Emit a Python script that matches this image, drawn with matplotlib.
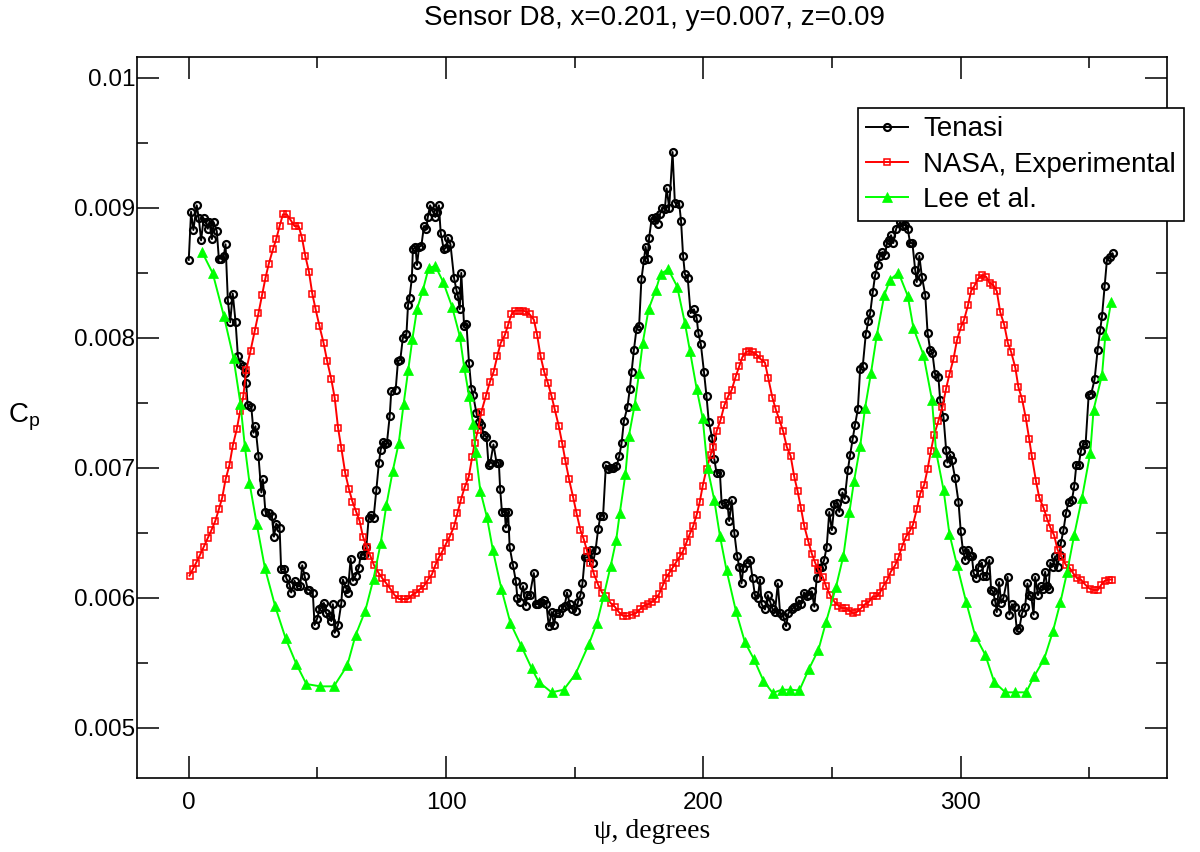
import numpy as np
import matplotlib
matplotlib.use("Agg")
import matplotlib.pyplot as plt
from matplotlib.ticker import MultipleLocator, FormatStrFormatter

# values, Cp in units of 1e-4
tenasi = [
    (0.0, 86.0), (0.9, 89.7), (1.8, 88.3), (3.1, 90.2), (3.9, 89.2), (4.8, 87.5), (5.8, 89.2), (6.8, 88.9),
    (7.4, 88.4), (8.0, 88.9), (9.0, 87.6), (9.7, 88.9), (10.9, 88.2), (11.7, 86.1), (12.6, 86.1), (13.6, 86.3),
    (14.3, 87.2), (15.2, 82.9), (16.1, 81.2), (17.1, 83.4), (18.2, 81.2), (19.1, 78.6), (20.0, 78.0), (21.0, 77.8),
    (21.7, 77.3), (22.3, 76.5), (22.9, 74.8), (24.3, 74.7), (25.2, 72.7), (25.9, 73.2), (27.1, 70.9), (28.2, 68.1),
    (28.8, 69.1), (29.8, 66.6), (31.1, 66.5), (32.3, 66.3), (33.1, 64.7), (34.0, 65.7), (35.3, 65.4), (35.9, 62.2),
    (37.2, 62.2), (37.9, 61.5), (39.2, 61.0), (39.8, 60.4), (41.1, 61.3), (42.0, 60.9), (43.3, 60.9), (44.1, 62.5),
    (45.0, 61.7), (46.3, 60.6), (46.9, 60.6), (48.2, 60.4), (48.9, 57.9), (49.9, 58.4), (50.8, 59.1), (51.9, 59.3),
    (52.5, 59.6), (53.4, 58.8), (54.7, 58.6), (55.4, 58.2), (56.0, 59.5), (56.7, 57.3), (58.0, 57.9), (59.3, 59.6),
    (59.9, 61.4), (61.2, 60.7), (61.8, 60.4), (62.9, 63.0), (63.8, 61.3), (64.8, 61.7), (66.1, 62.3), (66.8, 63.3),
    (68.1, 63.3), (69.0, 63.9), (69.9, 66.1), (70.9, 66.4), (71.8, 66.1), (72.9, 68.3), (73.9, 70.4), (74.6, 71.4),
    (75.5, 72.0), (76.1, 71.8), (77.0, 71.9), (78.1, 74.0), (78.7, 75.9), (80.4, 76.0), (81.3, 78.2), (82.2, 78.3),
    (83.2, 80.0), (84.6, 80.3), (85.2, 82.5), (85.8, 83.1), (86.7, 84.6), (87.1, 86.8), (88.1, 87.0), (88.7, 85.6),
    (89.5, 87.0), (90.4, 87.1), (91.4, 88.6), (92.3, 88.4), (92.9, 89.3), (93.8, 90.2), (94.9, 89.7), (95.8, 89.3),
    (96.5, 89.7), (97.2, 90.2), (97.9, 88.1), (99.1, 86.8), (99.8, 86.9), (100.7, 87.7), (101.7, 87.2), (103.1, 84.6),
    (104.0, 83.7), (104.6, 83.2), (105.3, 82.2), (105.9, 85.0), (107.0, 80.9), (107.9, 81.1), (108.9, 78.1),
    (109.8, 76.1), (110.5, 75.6), (111.8, 74.2), (112.8, 73.5), (113.7, 73.3), (114.7, 72.5), (115.7, 72.4),
    (116.5, 70.2), (117.2, 70.4), (118.4, 71.8), (119.6, 70.4), (120.5, 70.4), (121.0, 68.4), (121.7, 66.6),
    (122.8, 66.6), (123.2, 65.4), (124.1, 66.6), (124.7, 63.9), (126.0, 62.5), (127.1, 61.3), (127.7, 60.0),
    (128.6, 59.7), (129.9, 60.9), (131.0, 59.4), (131.5, 60.2), (132.5, 60.2), (134.1, 61.9), (134.9, 59.5),
    (135.9, 59.5), (136.8, 59.7), (138.0, 59.8), (139.0, 59.5), (139.9, 57.8), (141.0, 58.9), (142.0, 57.9),
    (142.6, 58.8), (143.9, 58.8), (145.2, 59.2), (146.1, 59.4), (147.0, 60.4), (148.1, 59.5), (149.1, 59.1),
    (150.4, 59.0), (151.3, 59.7), (152.2, 60.2), (153.0, 61.1), (153.9, 63.1), (154.8, 63.1), (156.2, 63.7),
    (157.1, 62.7), (158.1, 63.7), (159.1, 65.3), (160.0, 66.3), (161.0, 66.3), (162.1, 70.2), (163.0, 69.9),
    (164.0, 70.0), (164.9, 70.0), (166.2, 70.1), (167.3, 70.9), (168.2, 71.9), (169.1, 73.6), (170.5, 74.7),
    (171.4, 76.1), (172.1, 77.4), (173.0, 79.1), (174.0, 80.7), (175.0, 80.9), (175.9, 84.5), (176.9, 86.0),
    (177.5, 87.0), (178.3, 86.1), (178.9, 87.7), (179.9, 89.2), (180.7, 89.1), (181.5, 89.3), (182.2, 88.8),
    (183.1, 89.5), (184.0, 90.0), (185.0, 89.9), (185.7, 91.5), (186.7, 90.0), (188.0, 94.3), (188.9, 90.4),
    (190.6, 90.3), (191.3, 89.0), (192.1, 86.3), (192.8, 84.9), (193.9, 84.6), (195.0, 81.9), (196.3, 82.2),
    (197.4, 81.5), (198.0, 80.4), (199.0, 79.5), (200.2, 77.4), (201.2, 75.5), (202.1, 73.5), (203.4, 72.3),
    (204.2, 70.7), (205.1, 69.6), (206.4, 69.6), (207.1, 67.2), (208.4, 67.3), (209.4, 67.1), (210.0, 65.9),
    (211.0, 67.5), (212.0, 65.0), (213.1, 63.2), (213.9, 62.4), (214.8, 61.1), (215.5, 62.3), (216.8, 62.7),
    (218.1, 62.9), (219.1, 61.5), (220.0, 60.2), (221.1, 60.0), (222.0, 61.4), (222.6, 59.5), (223.9, 59.1),
    (225.0, 60.2), (225.9, 59.7), (226.9, 59.1), (227.8, 58.9), (228.9, 61.1), (229.8, 58.8), (231.0, 58.6),
    (232.1, 57.8), (233.0, 58.8), (234.3, 59.1), (235.3, 59.3), (236.3, 59.4), (237.1, 59.8), (237.9, 59.5),
    (239.1, 60.4), (240.1, 60.1), (241.0, 60.2), (242.1, 60.5), (243.1, 59.3), (244.0, 61.5), (245.0, 62.3),
    (246.0, 62.4), (246.9, 62.9), (247.9, 63.9), (248.9, 66.6), (249.9, 65.2), (250.9, 67.2), (251.8, 67.3),
    (252.8, 66.6), (254.0, 68.1), (254.9, 67.6), (256.1, 69.8), (257.0, 71.0), (258.0, 72.2), (258.9, 73.3),
    (260.0, 74.5), (260.9, 77.6), (261.9, 77.8), (263.1, 80.3), (264.1, 81.3), (264.8, 81.9), (265.8, 83.5),
    (266.7, 84.8), (267.7, 85.6), (268.6, 86.3), (269.5, 86.6), (270.6, 86.4), (271.3, 87.3), (272.3, 87.5),
    (272.9, 87.9), (273.8, 87.3), (274.9, 88.4), (276.4, 88.9), (277.5, 88.6), (278.4, 88.7), (279.4, 88.4),
    (280.3, 87.3), (281.2, 87.3), (282.3, 85.2), (282.9, 84.3), (283.9, 86.3), (284.9, 84.7), (286.2, 83.3),
    (287.1, 80.4), (288.1, 79.1), (289.0, 78.8), (290.0, 77.2), (291.3, 77.0), (292.0, 75.2), (293.3, 73.9),
    (294.3, 71.4), (294.8, 70.4), (295.9, 71.0), (296.5, 70.6), (297.8, 69.2), (299.1, 67.4), (300.0, 65.1),
    (300.8, 63.7), (301.7, 62.9), (303.0, 63.7), (303.7, 63.2), (304.3, 63.2), (305.0, 61.9), (306.0, 61.5),
    (306.9, 62.4), (308.2, 62.7), (308.8, 61.7), (309.9, 61.7), (311.1, 62.9), (311.8, 60.6), (312.5, 60.5),
    (313.4, 59.7), (314.0, 58.9), (314.9, 61.2), (315.7, 59.6), (316.6, 60.0), (318.2, 61.6), (318.9, 58.7),
    (319.9, 59.5), (320.9, 59.3), (321.8, 57.5), (322.8, 57.7), (323.8, 58.8), (325.0, 59.3), (325.9, 61.1),
    (326.7, 60.2), (327.4, 60.1), (328.3, 58.7), (328.9, 61.6), (330.0, 60.2), (331.2, 60.9), (331.9, 60.7),
    (332.8, 62.0), (333.5, 60.9), (334.1, 60.7), (334.8, 62.7), (335.7, 62.4), (336.7, 63.2), (337.6, 62.4),
    (338.4, 63.3), (338.9, 64.2), (339.9, 65.2), (340.9, 66.5), (341.9, 67.4), (343.2, 67.5), (344.1, 68.6),
    (344.9, 70.2), (345.8, 70.2), (346.7, 71.3), (347.5, 71.8), (348.5, 71.8), (349.7, 75.6), (350.7, 75.7),
    (352.0, 76.8), (353.2, 79.1), (354.2, 80.6), (354.9, 81.7), (355.9, 84.0), (356.8, 86.0), (357.8, 86.2),
    (359.0, 86.5),
]

nasa = [
    (0.3, 61.7), (1.6, 62.2), (2.9, 62.7), (4.4, 63.3), (5.8, 63.9), (7.4, 64.6), (8.8, 65.2), (10.3, 65.9),
    (11.7, 66.8), (13.0, 67.7), (14.3, 69.1), (15.8, 70.2), (17.1, 71.7), (18.7, 73.0), (20.0, 74.4), (21.2, 75.5),
    (22.3, 77.5), (24.0, 79.0), (25.6, 80.5), (27.1, 81.9), (28.5, 83.3), (29.8, 84.6), (31.1, 85.7), (32.7, 86.8),
    (34.0, 87.6), (35.3, 88.6), (36.6, 89.5), (38.1, 89.5), (39.8, 89.0), (41.1, 88.6), (42.7, 88.6), (44.0, 87.7),
    (45.3, 86.3), (46.7, 85.1), (48.0, 83.4), (49.3, 82.2), (50.8, 80.9), (52.4, 79.6), (53.8, 78.2), (55.4, 76.8),
    (56.7, 75.4), (58.0, 73.1), (59.3, 71.5), (60.8, 69.6), (62.2, 68.4), (63.6, 67.4), (65.1, 66.6), (66.4, 65.9),
    (67.7, 64.7), (69.2, 63.9), (70.6, 63.2), (72.0, 62.5), (73.8, 61.9), (75.2, 61.5), (76.8, 61.1), (78.3, 60.7),
    (80.0, 60.2), (81.7, 59.9), (83.5, 59.9), (85.2, 59.9), (86.7, 60.2), (88.4, 60.4), (90.0, 60.7), (91.4, 60.9),
    (93.0, 61.4), (94.5, 61.8), (95.8, 62.5), (97.2, 63.1), (98.6, 63.6), (100.1, 64.2), (101.4, 64.7),
    (103.1, 65.5), (104.4, 66.5), (105.7, 67.5), (107.2, 68.5), (108.8, 69.3), (110.1, 70.8), (111.1, 71.9),
    (112.4, 72.9), (113.7, 74.3), (115.4, 75.5), (117.0, 76.6), (118.5, 77.4), (119.9, 78.6), (121.2, 79.6),
    (122.8, 80.2), (124.1, 81.0), (125.4, 81.8), (126.7, 82.1), (128.2, 82.1), (129.9, 82.1), (131.2, 82.0),
    (132.5, 81.8), (134.1, 81.4), (135.4, 80.2), (136.7, 78.6), (138.1, 77.4), (139.6, 76.5), (141.0, 75.5),
    (142.2, 74.5), (143.8, 73.2), (145.2, 71.8), (146.4, 70.5), (147.8, 69.1), (149.4, 67.7), (150.7, 66.5),
    (152.2, 65.2), (153.5, 64.5), (154.8, 63.6), (156.1, 62.7), (157.5, 61.8), (159.1, 61.0), (160.6, 60.4),
    (162.3, 60.1), (163.9, 59.6), (165.6, 59.3), (167.1, 58.9), (168.8, 58.6), (170.4, 58.6), (172.1, 58.7),
    (173.7, 58.8), (175.3, 59.1), (177.0, 59.4), (178.5, 59.5), (180.1, 59.7), (181.4, 59.9), (182.8, 60.3),
    (184.1, 60.9), (185.4, 61.5), (186.7, 61.9), (188.0, 62.3), (189.3, 62.7), (190.9, 63.2), (192.1, 63.6),
    (193.5, 64.3), (194.7, 64.9), (196.0, 65.5), (197.4, 66.4), (198.6, 67.4), (199.7, 68.6), (201.2, 69.9),
    (202.8, 71.0), (203.8, 71.6), (205.1, 72.8), (206.7, 73.7), (208.1, 74.8), (209.6, 75.5), (211.0, 76.0),
    (212.5, 77.0), (213.9, 77.8), (215.1, 78.5), (216.5, 78.9), (217.8, 79.0), (219.1, 78.9), (220.7, 78.7),
    (222.0, 78.4), (223.9, 78.1), (225.2, 76.9), (226.8, 75.4), (228.1, 74.5), (229.5, 73.7), (231.0, 72.8),
    (232.4, 71.6), (233.9, 70.9), (235.3, 69.3), (236.6, 68.2), (237.9, 66.9), (239.2, 65.5), (240.8, 64.3),
    (242.1, 63.4), (243.4, 62.7), (244.7, 62.1), (246.4, 61.6), (247.6, 60.9), (249.2, 60.2), (250.9, 59.7),
    (252.4, 59.4), (254.0, 59.2), (255.3, 59.2), (256.7, 59.0), (258.3, 58.8), (259.6, 58.9), (261.3, 59.2),
    (262.8, 59.5), (264.4, 59.7), (265.8, 60.1), (267.4, 60.1), (268.6, 60.4), (269.9, 60.9), (271.5, 61.4),
    (272.8, 62.0), (274.5, 62.5), (275.8, 63.1), (277.1, 63.9), (278.7, 64.7), (280.1, 65.1), (281.4, 65.6),
    (282.9, 66.8), (284.2, 68.0), (285.8, 68.7), (287.1, 69.9), (288.4, 71.3), (289.6, 72.5), (291.3, 73.6),
    (292.9, 74.7), (294.3, 76.1), (295.6, 77.2), (297.2, 78.4), (298.5, 79.8), (300.0, 80.8), (301.3, 81.4),
    (302.8, 82.5), (304.0, 83.6), (305.3, 84.0), (306.9, 84.6), (308.4, 84.8), (309.9, 84.7), (311.2, 84.2),
    (312.5, 84.1), (314.0, 83.6), (315.3, 82.0), (316.9, 81.0), (318.3, 79.6), (319.6, 78.9), (321.2, 77.7),
    (322.4, 76.2), (323.8, 75.3), (325.3, 73.8), (326.6, 72.2), (327.6, 70.9), (329.2, 69.0), (330.5, 67.7),
    (332.2, 66.9), (333.5, 66.1), (334.8, 65.4), (336.3, 64.8), (337.6, 63.7), (339.3, 63.1), (340.9, 62.5),
    (342.3, 62.3), (343.6, 61.9), (345.2, 61.5), (346.7, 61.4), (348.4, 61.0), (350.1, 60.7), (351.6, 60.6),
    (353.3, 60.6), (354.6, 61.0), (355.9, 61.3), (357.5, 61.4), (358.8, 61.4),
]

lee = [
    (5.1, 86.64), (9.3, 84.98), (13.6, 81.72), (17.4, 78.44), (20.1, 74.92), (21.8, 71.64), (23.6, 68.85),
    (26.4, 65.69), (29.6, 62.28), (33.6, 59.33), (37.6, 56.90), (41.8, 54.90), (45.7, 53.36), (51.1, 53.18),
    (56.4, 53.18), (61.6, 54.79), (64.8, 57.10), (68.6, 59.00), (71.8, 61.46), (74.6, 64.21), (76.8, 67.13),
    (79.3, 69.79), (81.6, 71.90), (83.5, 74.92), (85.3, 77.54), (86.9, 79.90), (88.7, 82.21), (91.0, 83.69),
    (93.2, 85.36), (95.8, 85.54), (98.8, 84.33), (102.3, 82.41), (105.3, 80.15), (107.0, 77.79), (108.9, 75.54),
    (110.5, 73.38), (111.5, 71.18), (113.3, 68.23), (115.9, 66.18), (118.2, 63.64), (121.5, 60.67), (125.0, 58.05),
    (129.3, 56.25), (133.2, 54.59), (136.0, 53.52), (141.0, 52.72), (145.7, 52.92), (150.3, 54.13), (155.5, 56.44),
    (158.6, 58.05), (161.2, 60.10), (164.0, 62.48), (166.1, 64.44), (167.5, 66.52), (169.7, 69.52), (171.0, 72.41),
    (173.3, 74.85), (175.0, 77.33), (176.4, 79.59), (178.7, 82.21), (181.5, 83.69), (183.4, 84.92), (186.3, 85.28),
    (189.8, 83.95), (192.8, 81.13), (194.8, 78.95), (197.4, 76.05), (199.7, 73.82), (201.6, 69.98), (204.2, 67.54),
    (206.4, 64.77), (209.0, 62.10), (212.6, 59.00), (216.1, 56.59), (219.6, 55.28), (223.3, 53.62), (226.9, 52.67),
    (230.4, 52.92), (233.6, 52.92), (237.3, 52.87), (241.0, 54.52), (244.7, 56.00), (247.6, 58.10), (251.5, 60.82),
    (254.4, 63.23), (256.7, 66.56), (258.5, 68.95), (260.9, 71.64), (262.8, 74.59), (265.1, 77.28), (267.4, 80.23),
    (270.3, 83.31), (272.5, 84.46), (275.8, 85.02), (279.4, 83.23), (281.6, 80.75), (285.5, 78.69), (288.8, 75.25),
    (290.4, 71.25), (293.3, 68.31), (295.6, 64.90), (298.5, 62.54), (302.1, 59.67), (305.6, 57.08), (309.5, 55.62),
    (313.0, 53.52), (317.3, 52.72), (320.9, 52.72), (325.4, 52.72), (328.5, 53.95), (332.4, 55.28), (335.8, 57.41),
    (338.7, 59.64), (341.3, 61.95), (344.1, 64.85), (347.1, 67.67), (350.3, 71.13), (351.6, 74.46), (354.9, 77.15),
    (356.2, 80.23), (358.4, 82.74),
]

labels = ["Tenasi", "NASA, Experimental", "Lee et al."]
title = "Sensor D8, x=0.201, y=0.007, z=0.09"

plt.rcParams['font.family'] = ['Liberation Sans', 'DejaVu Sans']

fig = plt.figure(figsize=(12, 8.52), dpi=100)
ax = fig.add_axes([0.1144, 0.0872, 0.8578, 0.8463])

t = np.array(tenasi)
n = np.array(nasa)
l = np.array(lee)

ax.plot(t[:, 0], t[:, 1] * 1e-4, color='black', lw=1.4, marker='o', ms=5,
        mfc='none', mec='black', mew=1.6, label=labels[0])
ax.plot(n[:, 0], n[:, 1] * 1e-4, color='red', lw=1.4, marker='s', ms=5,
        mfc='none', mec='red', mew=1.1, label=labels[1])
ax.plot(l[:, 0], l[:, 1] * 1e-4, color='#00ff00', lw=1.4, marker='^', ms=7,
        mfc='#00ff00', mec='#00ff00', mew=0.5, label=labels[2])

ax.set_xlim(-20, 380)
ax.set_ylim(0.004615, 0.010164)

ax.xaxis.set_major_locator(MultipleLocator(100))
ax.xaxis.set_minor_locator(MultipleLocator(50))
ax.yaxis.set_major_locator(MultipleLocator(0.001))
ax.yaxis.set_minor_locator(MultipleLocator(0.0005))
ax.yaxis.set_major_formatter(FormatStrFormatter('%g'))

ax.tick_params(which='both', direction='in', top=True, right=True, width=1.1,
               labelsize=17.5, colors='black')
ax.tick_params(which='major', length=16)
ax.tick_params(which='minor', length=8)
ax.tick_params(axis='x', which='major', pad=10)
ax.tick_params(axis='y', which='major', pad=1.5)
for s in ax.spines.values():
    s.set_linewidth(1.2)

ax.set_xlabel("\u03c8, degrees", fontsize=20, family=['Liberation Serif', 'DejaVu Serif'],
              labelpad=4)
ax.set_ylabel("C$_\\mathregular{p}$", fontsize=20, rotation=0, labelpad=36, va='center')

fig.text(654 / 1200, 1 - 18 / 852, title, ha='center', va='center', fontsize=20)

leg = ax.legend(loc='upper left', bbox_to_anchor=(858 / 1200, 1 - 108 / 852),
                bbox_transform=fig.transFigure, fontsize=20, frameon=True,
                fancybox=False, edgecolor='black', framealpha=1,
                handlelength=1.5, handletextpad=0.55, borderpad=0.3,
                labelspacing=0.33, borderaxespad=0)
leg.get_frame().set_linewidth(1.2)

fig.savefig("out.png", dpi=100)
